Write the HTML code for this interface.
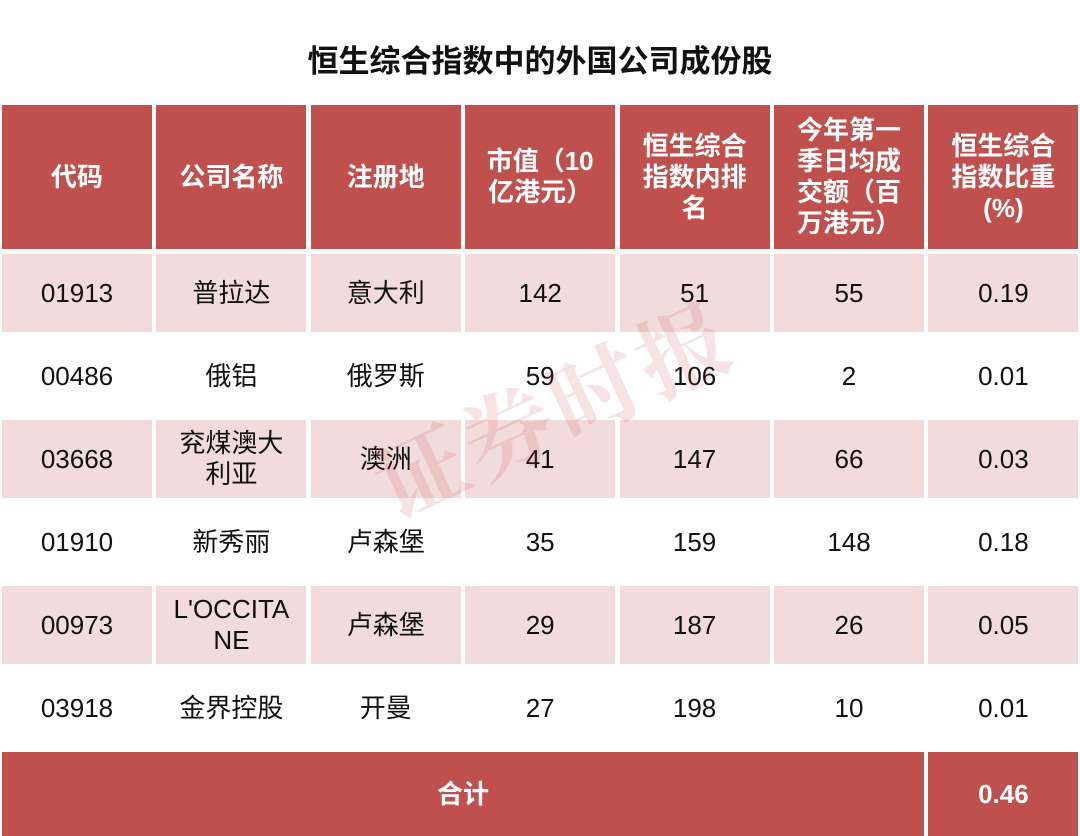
<!DOCTYPE html>
<html><head><meta charset="utf-8"><style>
body{margin:0;width:1080px;height:836px;background:#fff;position:relative;overflow:hidden;font-family:"Liberation Sans","Noto Sans CJK SC",sans-serif}
.t{position:absolute;left:0;width:1080px;top:36px;text-align:center;font-size:31px;font-weight:bold;color:#111}
.c{position:absolute;display:flex;align-items:center;justify-content:center;text-align:center;font-size:26px;line-height:31px;color:#111;box-sizing:border-box;padding:0 12px;word-break:break-all}
.h{background:#c0504d;color:#fff;font-weight:bold;padding:0 18px}
.p{background:#f2dcdb}
.w{background:#fff}
.wm{position:absolute;left:360px;top:340px;font-size:90px;color:rgba(200,60,60,0.14);transform:rotate(-25deg);font-family:"Noto Serif CJK SC",serif;letter-spacing:6px;font-weight:bold}
</style></head><body>
<div class="t">恒生综合指数中的外国公司成份股</div>
<div id="tb"></div>
<div class="wm">证券时报</div>
<script>
const headers=["代码","公司名称","注册地","市值（10亿港元）","恒生综合指数内排名","今年第一季日均成交额（百万港元）","恒生综合指数比重(%)"];
const codes=["01913","00486","03668","01910","00973","03918"];
const names=["普拉达","俄铝","兖煤澳大利亚","新秀丽","L'OCCITANE","金界控股"];
const places=["意大利","俄罗斯","澳洲","卢森堡","卢森堡","开曼"];
const caps=["142","59","41","35","29","27"];
const ranks=["51","106","147","159","187","198"];
const volumes=["55","2","66","148","26","10"];
const weights=["0.19","0.01","0.03","0.18","0.05","0.01"];
const total="0.46";
const tb=document.getElementById('tb');
const colX=i=>2+i*154.4, colW=150;
function cell(x,y,w,h,txt,cls,name){
 const d=document.createElement('div');d.className='c '+cls;
 d.style.left=x+'px';d.style.top=y+'px';d.style.width=w+'px';d.style.height=h+'px';
 d.textContent=txt;
 
 
 tb.appendChild(d);
}
headers.forEach((t,i)=>cell(colX(i),105,colW,144,t,'h','header-cell'));
const rowY=r=>254+r*83.1;
for(let r=0;r<codes.length;r++){
 const cls=r%2===0?'p':'w';
 const vals=[codes[r],names[r],places[r],caps[r],ranks[r],volumes[r],weights[r]];
 vals.forEach((v,i)=>cell(colX(i),rowY(r),colW,78,v,cls,'data-cell'));
}
cell(2,752,colX(6)-2-4.4,84,'合计','h','total-label');
cell(colX(6),752,colW,84,total,'h','total-value');
</script>
</body></html>
